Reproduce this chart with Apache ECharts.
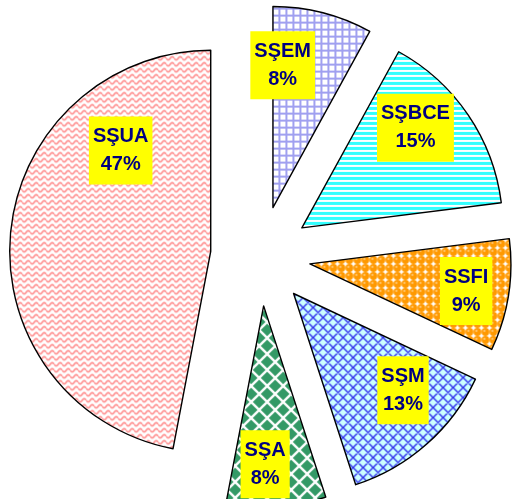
<!DOCTYPE html>
<html>
<head>
<meta charset="utf-8">
<script src="https://cdn.jsdelivr.net/npm/echarts@6/dist/echarts.min.js"></script>
<style>
  html, body { margin: 0; padding: 0; background: #fff; }
  #chart { width: 513px; height: 499px; }
</style>
</head>
<body>
<div id="chart"></div>
<script>
  const categories = ["SŞEM", "SŞBCE", "SSFI", "SŞM", "SŞA", "SŞUA"];
  const shares = [8, 15, 9, 13, 8, 47];

  // small canvas tiles used as fill patterns
  const tile = (w, h, draw) => {
    const c = document.createElement("canvas");
    c.width = w;
    c.height = h;
    draw(c.getContext("2d"), w, h);
    return { image: c, repeat: "repeat" };
  };

  const patterns = [
    // lavender grid
    tile(7, 7, g => {
      g.fillStyle = "#a0a0f0";
      g.fillRect(0, 0, 7, 7);
      g.fillStyle = "#fff";
      g.fillRect(2, 2, 5, 5);
    }),
    // cyan stripes
    tile(4, 5, g => {
      g.fillStyle = "#fff";
      g.fillRect(0, 0, 4, 5);
      g.fillStyle = "#33ffff";
      g.fillRect(0, 0, 4, 3);
    }),
    // orange bubbles
    tile(8, 8, g => {
      g.fillStyle = "#fff";
      g.fillRect(0, 0, 8, 8);
      g.fillStyle = "#ff9900";
      g.beginPath();
      g.arc(4, 4, 3.9, 0, Math.PI * 2);
      g.fill();
      g.fillStyle = "#ffc266";
      g.beginPath();
      g.arc(3, 3, 1.2, 0, Math.PI * 2);
      g.fill();
    }),
    // blue crosshatch on pale cyan
    tile(10, 10, g => {
      g.fillStyle = "#ccffff";
      g.fillRect(0, 0, 10, 10);
      g.strokeStyle = "#3333ee";
      g.lineWidth = 1.4;
      g.beginPath();
      for (let k = -10; k <= 10; k += 10) {
        g.moveTo(-2 + k, -2);
        g.lineTo(12 + k, 12);
        g.moveTo(12 + k, -2);
        g.lineTo(-2 + k, 12);
      }
      g.stroke();
    }),
    // green diamonds
    tile(16, 16, g => {
      g.fillStyle = "#fff";
      g.fillRect(0, 0, 16, 16);
      g.fillStyle = "#339966";
      const d = 6.3;
      [[8, 8], [0, 0], [16, 0], [0, 16], [16, 16]].forEach(([x, y]) => {
        g.beginPath();
        g.moveTo(x, y - d);
        g.lineTo(x + d, y);
        g.lineTo(x, y + d);
        g.lineTo(x - d, y);
        g.closePath();
        g.fill();
      });
    }),
    // pink waves
    tile(8, 6, g => {
      g.fillStyle = "#fff";
      g.fillRect(0, 0, 8, 6);
      g.strokeStyle = "#ff8f8f";
      g.lineWidth = 1.6;
      g.beginPath();
      for (let x = 0; x <= 8; x += 0.5) {
        const y = 3 + 1.6 * Math.sin((x / 8) * Math.PI * 2);
        x === 0 ? g.moveTo(x, y) : g.lineTo(x, y);
      }
      g.stroke();
    }),
  ];

  // nudges of each label away from the default inside spot
  const labelShift = [
    [-16, -42],
    [28, -42],
    [54, 11],
    [41, 19],
    [-5, 55],
    [13, -91],
  ];

  const chart = echarts.init(document.getElementById("chart"), null, { renderer: "canvas" });
  chart.setOption({
    animation: false,
    backgroundColor: "#fff",
    series: [
      {
        type: "pie",
        center: [260.5, 256],
        radius: 201,
        startAngle: 90,
        clockwise: true,
        selectedMode: "multiple",
        selectedOffset: 50,
        avoidLabelOverlap: false,
        itemStyle: { borderColor: "#000", borderWidth: 1.4 },
        emphasis: { disabled: true },
        labelLine: { show: false },
        label: {
          show: true,
          position: "inside",
          formatter: "{b}\n{c}%",
          color: "#000080",
          fontFamily: "Liberation Sans, Arial, sans-serif",
          fontWeight: "bold",
          fontSize: 20,
          lineHeight: 28,
          backgroundColor: "#ffff00",
          padding: [6, 4, 6, 4],
        },
        labelLayout: p => ({ dx: labelShift[p.dataIndex][0], dy: labelShift[p.dataIndex][1] }),
        data: categories.map((name, i) => ({
          name: name,
          value: shares[i],
          selected: true,
          itemStyle: { color: patterns[i] },
        })),
      },
    ],
  });
</script>
</body>
</html>
